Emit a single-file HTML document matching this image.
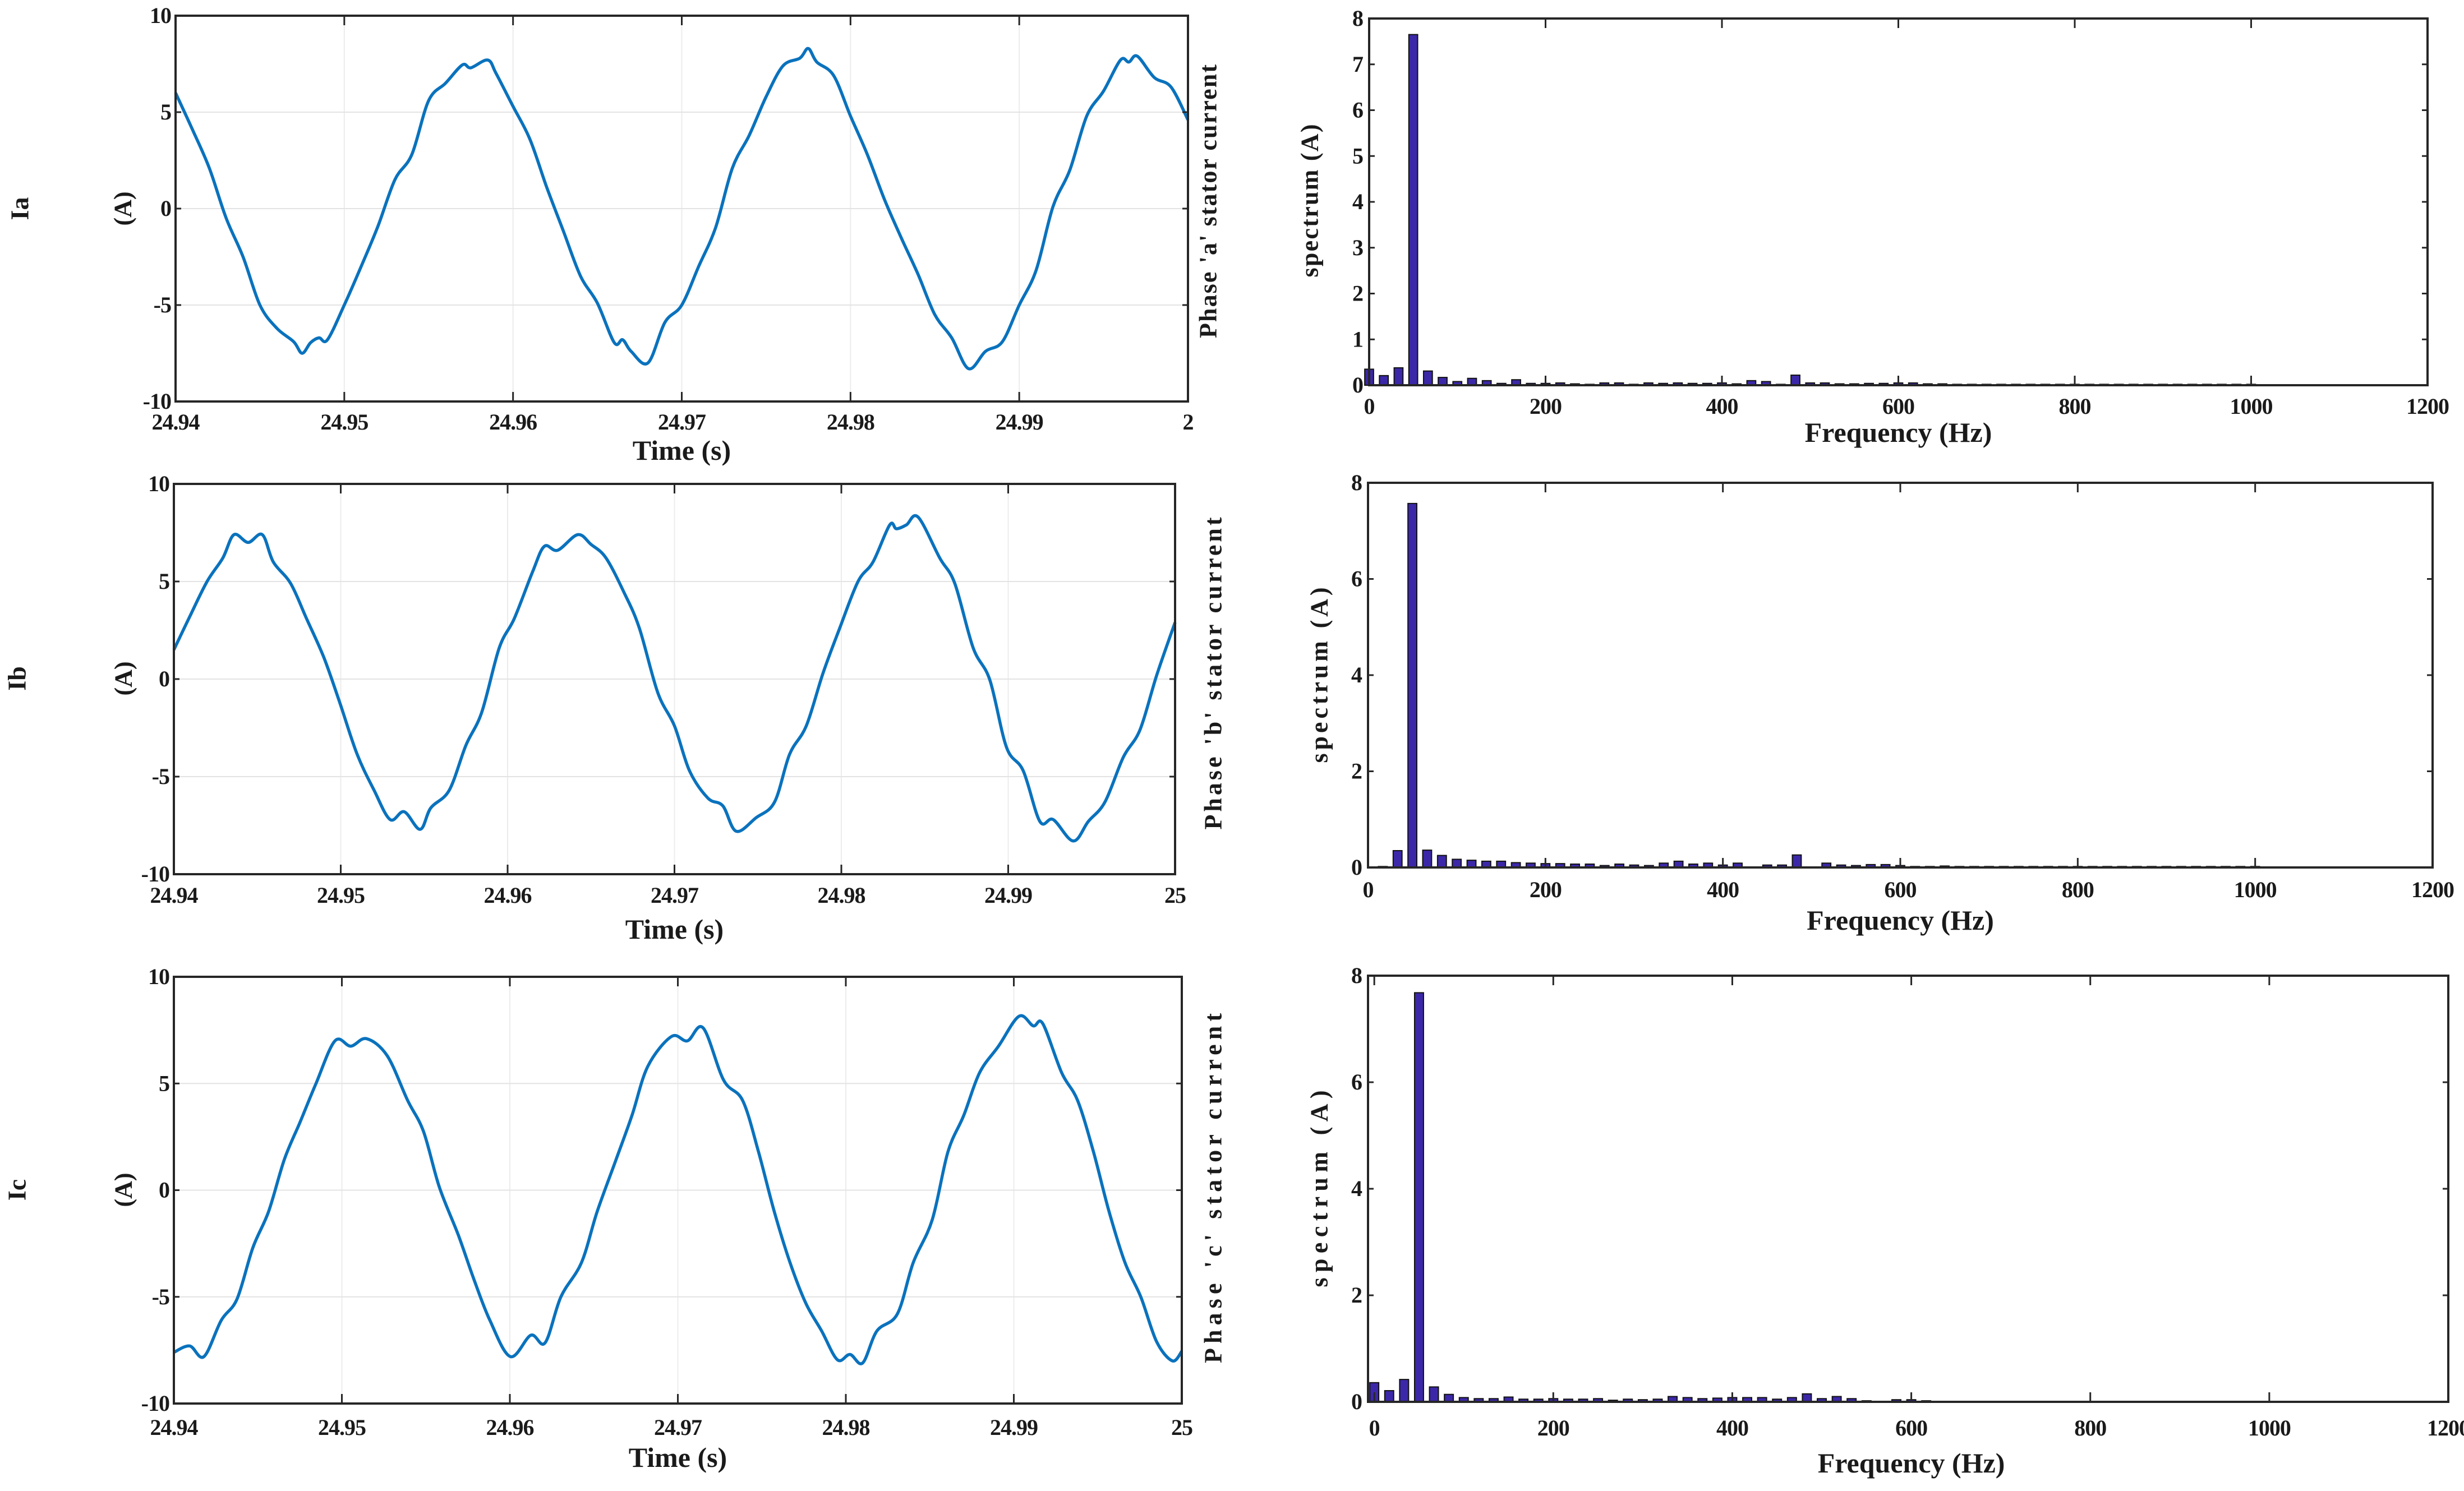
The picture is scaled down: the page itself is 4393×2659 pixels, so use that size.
<!DOCTYPE html>
<html><head><meta charset="utf-8"><style>
html,body{margin:0;padding:0;background:#fff;}
svg{display:block;font-family:"Liberation Serif",serif;font-weight:bold;}
</style></head><body>
<svg id="fig" width="4393" height="2659" viewBox="0 0 4393 2659" xmlns="http://www.w3.org/2000/svg"></svg>
<script>
// ---------- data ----------
const iaTime=[24.94,24.941,24.942,24.943,24.944,24.945,24.946,24.947,24.9475,24.948,24.9485,24.949,24.95,24.951,24.952,24.953,24.954,24.955,24.956,24.957,24.9575,24.9585,24.959,24.96,24.961,24.962,24.963,24.964,24.965,24.966,24.9665,24.967,24.968,24.969,24.97,24.971,24.972,24.973,24.974,24.975,24.976,24.977,24.9775,24.978,24.979,24.98,24.981,24.982,24.983,24.984,24.985,24.986,24.987,24.988,24.989,24.99,24.991,24.992,24.993,24.994,24.995,24.996,24.9965,24.997,24.998,24.999,25.0];
const iaValues=[6.0,4.1,2.1,-0.5,-2.5,-5.0,-6.2,-6.9,-7.5,-6.95,-6.7,-6.8,-5.0,-3.0,-0.9,1.5,2.8,5.6,6.5,7.45,7.3,7.7,7.0,5.3,3.6,1.1,-1.2,-3.5,-4.9,-6.95,-6.8,-7.4,-8.0,-5.9,-5.0,-3.0,-1.0,2.1,3.8,5.8,7.4,7.8,8.3,7.6,6.9,4.8,2.8,0.5,-1.5,-3.4,-5.5,-6.7,-8.3,-7.4,-6.9,-5.0,-3.2,0.1,2.0,4.8,6.1,7.7,7.6,7.9,6.8,6.3,4.6];
const ibTime=[24.94,24.94095,24.94199,24.94293,24.9436,24.94445,24.9453,24.94596,24.947,24.94795,24.94899,24.94994,24.95098,24.952,24.95296,24.9538,24.95476,24.9554,24.9565,24.9575,24.95845,24.9595,24.9604,24.9615,24.9622,24.963,24.9642,24.965,24.9659,24.967,24.9679,24.969,24.97,24.9709,24.972,24.9729,24.9737,24.9749,24.976,24.9769,24.9779,24.9789,24.9799,24.981,24.9819,24.9829,24.9833,24.9839,24.9846,24.9859,24.9868,24.9879,24.9889,24.9899,24.9909,24.9919,24.9927,24.9939,24.9948,24.9958,24.9969,24.9979,24.9989,25.0];
const ibValues=[1.5,3.2,5.0,6.2,7.4,7.0,7.4,6.0,4.9,3.1,1.1,-1.2,-3.85,-5.7,-7.2,-6.8,-7.7,-6.6,-5.7,-3.4,-1.7,1.6,3.1,5.5,6.8,6.6,7.4,6.9,6.2,4.4,2.6,-0.7,-2.4,-4.7,-6.1,-6.5,-7.8,-7.1,-6.3,-3.85,-2.4,0.3,2.6,5.0,6.0,7.9,7.7,7.9,8.3,6.2,4.9,1.6,-0.05,-3.5,-4.7,-7.3,-7.2,-8.3,-7.3,-6.3,-4.0,-2.6,0.2,2.9];
const icTime=[24.94,24.94094,24.94179,24.94282,24.94376,24.9447,24.94564,24.94658,24.94752,24.94846,24.94959,24.95053,24.95147,24.9527,24.95392,24.95486,24.9558,24.95693,24.95787,24.95881,24.96003,24.96125,24.9621,24.96304,24.96426,24.9652,24.96633,24.96727,24.96821,24.96962,24.97057,24.97151,24.97273,24.97386,24.9748,24.97574,24.97668,24.97762,24.97856,24.9795,24.98025,24.981,24.98185,24.98307,24.98401,24.98514,24.98608,24.98702,24.98796,24.98909,24.99031,24.99116,24.99173,24.99285,24.9938,24.99474,24.99567,24.99662,24.99756,24.9985,24.99944,25.0];
const icValues=[-7.6,-7.3,-7.8,-6.1,-5.1,-2.7,-1.0,1.45,3.2,5.0,7.0,6.75,7.1,6.3,4.2,2.75,0.15,-2.1,-4.2,-6.1,-7.8,-6.8,-7.15,-5.0,-3.4,-1.0,1.45,3.5,5.8,7.2,7.0,7.6,5.15,4.2,1.8,-1.0,-3.4,-5.3,-6.6,-7.95,-7.7,-8.1,-6.6,-5.8,-3.4,-1.4,1.8,3.5,5.5,6.75,8.15,7.7,7.8,5.5,4.2,1.8,-1.0,-3.4,-5.0,-7.1,-8.0,-7.55];
const binStepHz=16.6667;
const specA=[0.35,0.21,0.38,7.65,0.31,0.17,0.08,0.15,0.10,0.04,0.12,0.04,0.04,0.05,0.03,0.02,0.05,0.05,0.02,0.05,0.04,0.05,0.04,0.04,0.05,0.03,0.10,0.08,0.02,0.22,0.05,0.05,0.03,0.03,0.04,0.04,0.05,0.05,0.03,0.03,0.02,0.02,0.02,0.02,0.02,0.02,0.02,0.02,0.02,0.02,0.02,0.02,0.02,0.02,0.02,0.02,0.02,0.02,0.02,0.02,0.02];
const specB=[0.0,0.02,0.35,7.57,0.36,0.25,0.17,0.15,0.13,0.13,0.10,0.09,0.08,0.08,0.07,0.07,0.04,0.07,0.05,0.04,0.09,0.13,0.07,0.09,0.05,0.09,0.01,0.05,0.05,0.26,0.01,0.09,0.05,0.04,0.06,0.06,0.04,0.02,0.02,0.03,0.02,0.02,0.02,0.02,0.02,0.02,0.02,0.02,0.02,0.02,0.02,0.02,0.02,0.02,0.02,0.02,0.02,0.02,0.02,0.02,0.02];
const specC=[0.36,0.21,0.42,7.68,0.28,0.14,0.08,0.06,0.06,0.09,0.05,0.05,0.06,0.05,0.05,0.06,0.03,0.05,0.04,0.05,0.10,0.08,0.06,0.07,0.08,0.08,0.08,0.05,0.08,0.15,0.06,0.10,0.06,0.02,0.01,0.04,0.04,0.02,0.01,0.01,0.01,0.01,0.01];
const timeTicks=[24.94,24.95,24.96,24.97,24.98,24.99,25];
const timeTickLabels=["24.94","24.95","24.96","24.97","24.98","24.99","25"];
const timeTickLabelsA=["24.94","24.95","24.96","24.97","24.98","24.99","2"];
const ampTicks=[-10,-5,0,5,10];
const freqTicks=[0,200,400,600,800,1000,1200];
const specTicksA=[0,1,2,3,4,5,6,7,8];
const specTicksBC=[0,2,4,6,8];

// ---------- helpers ----------
const NS="http://www.w3.org/2000/svg";
const svg=document.getElementById('fig');
const TICK_FS=40;
function mk(tag,attrs,parent){const e=document.createElementNS(NS,tag);for(const k in attrs)e.setAttribute(k,attrs[k]);(parent||svg).appendChild(e);return e;}
function lin(d0,d1,r0,r1){return v=>r0+(v-d0)*(r1-r0)/(d1-d0);}
function rotText(txt,x,y,fs,len,name){
  const t=mk('text',{x:0,y:0,'font-size':fs,'text-anchor':'middle','dominant-baseline':'central',transform:`translate(${x},${y}) rotate(-90)`,fill:'#1a1a1a'});
  if(len){t.setAttribute('textLength',len);t.setAttribute('lengthAdjust','spacing');}
  
  
  t.textContent=txt;return t;
}
function smoothPath(pts){
  let d=`M${pts[0][0].toFixed(1)},${pts[0][1].toFixed(1)}`;
  for(let i=0;i<pts.length-1;i++){
    const p0=pts[Math.max(0,i-1)],p1=pts[i],p2=pts[i+1],p3=pts[Math.min(pts.length-1,i+2)];
    const c1=[p1[0]+(p2[0]-p0[0])/6,p1[1]+(p2[1]-p0[1])/6];
    const c2=[p2[0]-(p3[0]-p1[0])/6,p2[1]-(p3[1]-p1[1])/6];
    d+=`C${c1[0].toFixed(1)},${c1[1].toFixed(1)} ${c2[0].toFixed(1)},${c2[1].toFixed(1)} ${p2[0].toFixed(1)},${p2[1].toFixed(1)}`;
  }
  return d;
}

function timePanel(cfg){
  const g=mk('g',{});
  
  
  const X=lin(24.94,25,cfg.L,cfg.R), Y=lin(-10,10,cfg.B,cfg.T);
  timeTicks.forEach(t=>{const l=mk('line',{x1:X(t),x2:X(t),y1:cfg.T,y2:cfg.B,stroke:'#ececec','stroke-width':2},g);});
  ampTicks.forEach(v=>{const l=mk('line',{x1:cfg.L,x2:cfg.R,y1:Y(v),y2:Y(v),stroke:'#e3e3e3','stroke-width':2},g);});
  const pts=cfg.time.map((t,i)=>[X(t),Y(cfg.values[i])]);
  const p=mk('path',{d:smoothPath(pts),fill:'none',stroke:'#0a72bd','stroke-width':5.5,'stroke-linejoin':'round'},g);
  
  
  mk('rect',{x:cfg.L,y:cfg.T,width:cfg.R-cfg.L,height:cfg.B-cfg.T,fill:'none',stroke:'#262626','stroke-width':4},g);
  timeTicks.forEach((t,i)=>{
    mk('line',{x1:X(t),x2:X(t),y1:cfg.B,y2:cfg.B-17,stroke:'#262626','stroke-width':3},g);
    mk('line',{x1:X(t),x2:X(t),y1:cfg.T,y2:cfg.T+17,stroke:'#262626','stroke-width':3},g);
    const tx=mk('text',{x:X(t),y:cfg.tickY,'font-size':TICK_FS,'text-anchor':'middle',fill:'#1a1a1a','letter-spacing':-1},g);
    
    
    tx.textContent=cfg.labels[i];
  });
  ampTicks.forEach(v=>{
    mk('line',{x1:cfg.L,x2:cfg.L+10,y1:Y(v),y2:Y(v),stroke:'#262626','stroke-width':3},g);
    mk('line',{x1:cfg.R,x2:cfg.R-10,y1:Y(v),y2:Y(v),stroke:'#262626','stroke-width':3},g);
    const tx=mk('text',{x:cfg.L-8,y:Y(v)+13,'font-size':TICK_FS,'text-anchor':'end',fill:'#1a1a1a','letter-spacing':-1},g);
    
    
    tx.textContent=String(v);
  });
  const xt=mk('text',{x:(cfg.L+cfg.R)/2,y:cfg.titleY,'font-size':50,'text-anchor':'middle',fill:'#1a1a1a'},g);
  
  
  xt.textContent='Time (s)';
}

function specPanel(cfg){
  const g=mk('g',{});
  
  
  const X=lin(cfg.f0,1200,cfg.L,cfg.R), Y=lin(0,8,cfg.B,cfg.T);
  const bw=(X(binStepHz)-X(0))*0.6;
  cfg.values.forEach((v,i)=>{
    const f=i*binStepHz;
    const r=mk('rect',{x:X(f)-bw/2,y:Y(v),width:bw,height:Math.max(0,cfg.B-Y(v)),fill:'#3b28a8',stroke:'#111','stroke-width':2},g);
    
    
  });
  mk('rect',{x:cfg.L,y:cfg.T,width:cfg.R-cfg.L,height:cfg.B-cfg.T,fill:'none',stroke:'#262626','stroke-width':4},g);
  freqTicks.forEach(f=>{
    mk('line',{x1:X(f),x2:X(f),y1:cfg.B,y2:cfg.B-17,stroke:'#262626','stroke-width':3},g);
    mk('line',{x1:X(f),x2:X(f),y1:cfg.T,y2:cfg.T+17,stroke:'#262626','stroke-width':3},g);
    const tx=mk('text',{x:X(f),y:cfg.tickY,'font-size':TICK_FS,'text-anchor':'middle',fill:'#1a1a1a','letter-spacing':-1},g);
    
    
    tx.textContent=String(f);
  });
  cfg.yticks.forEach(v=>{
    mk('line',{x1:cfg.L,x2:cfg.L+10,y1:Y(v),y2:Y(v),stroke:'#262626','stroke-width':3},g);
    mk('line',{x1:cfg.R,x2:cfg.R-10,y1:Y(v),y2:Y(v),stroke:'#262626','stroke-width':3},g);
    const tx=mk('text',{x:cfg.L-10,y:Y(v)+13,'font-size':TICK_FS,'text-anchor':'end',fill:'#1a1a1a'},g);
    
    
    tx.textContent=String(v);
  });
  const xt=mk('text',{x:(X(0)+X(1200))/2,y:cfg.titleY,'font-size':50,'text-anchor':'middle',fill:'#1a1a1a'},g);
  
  
  xt.textContent='Frequency (Hz)';
}

// ---------- panels ----------
timePanel({name:'ia-time-plot',L:313,R:2118,T:28,B:716,tickY:766,titleY:820,time:iaTime,values:iaValues,labels:timeTickLabelsA});
timePanel({name:'ib-time-plot',L:310,R:2095,T:863,B:1559,tickY:1610,titleY:1674,time:ibTime,values:ibValues,labels:timeTickLabels});
timePanel({name:'ic-time-plot',L:310,R:2107,T:1742,B:2503,tickY:2559,titleY:2616,time:icTime,values:icValues,labels:timeTickLabels});
specPanel({name:'ia-spectrum-plot',L:2441,R:4328,T:33,B:687,f0:0,tickY:738,titleY:788,values:specA,yticks:specTicksA});
specPanel({name:'ib-spectrum-plot',L:2439,R:4337,T:861,B:1547,f0:0,tickY:1600,titleY:1658,values:specB,yticks:specTicksBC});
specPanel({name:'ic-spectrum-plot',L:2439,R:4365,T:1740,B:2500,f0:-7,tickY:2560,titleY:2626,values:specC,yticks:specTicksBC});

// ---------- side labels ----------
rotText('Ia',35,372,46,0,'row-label-ia');
rotText('Ib',30,1210,46,0,'row-label-ib');
rotText('Ic',30,2122,46,0,'row-label-ic');
rotText('(A)',219,372,44,0,'y-axis-title-ia');
rotText('(A)',220,1210,44,0,'y-axis-title-ib');
rotText('(A)',220,2122,44,0,'y-axis-title-ic');
rotText("Phase 'a' stator current",2154,359,44,488,'phase-a-title');
rotText("Phase 'b' stator current",2163,1201,44,557,'phase-b-title');
rotText("Phase 'c' stator current",2163,2119,44,624,'phase-c-title');
rotText('spectrum (A)',2335,358,44,273,'spectrum-a-axis-title');
rotText('spectrum (A)',2352,1204,44,313,'spectrum-b-axis-title');
rotText('spectrum (A)',2352,2120,44,351,'spectrum-c-axis-title');
</script>
</body></html>
